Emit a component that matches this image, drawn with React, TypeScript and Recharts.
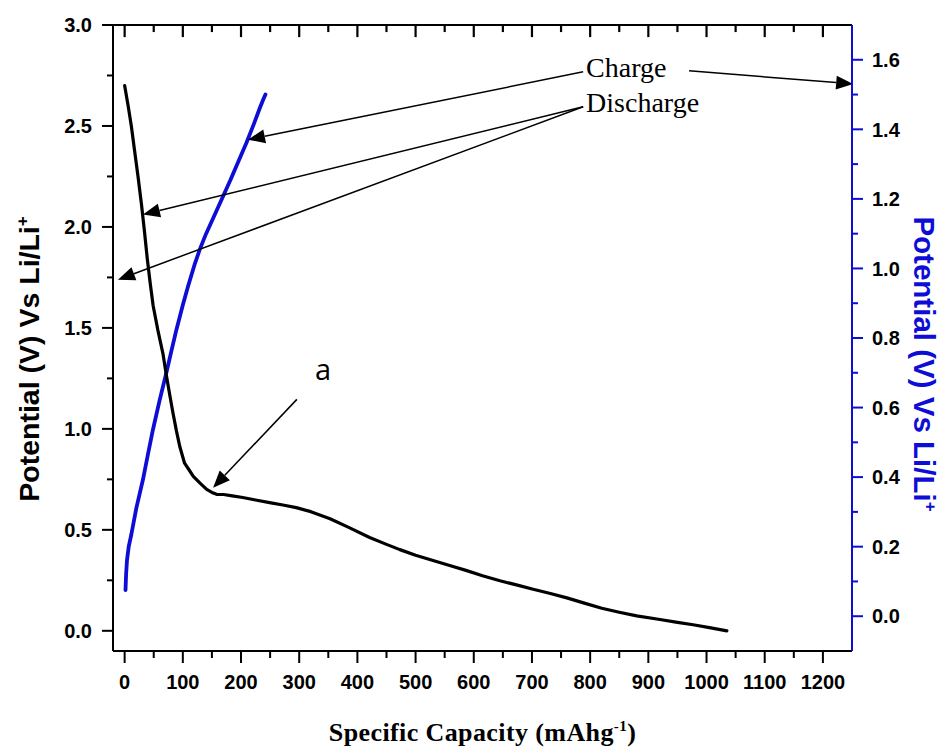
import { ComposedChart, Line, XAxis, YAxis, ReferenceLine, ReferenceDot } from 'recharts';

// tick values
const capacityTicks = [0, 50, 100, 150, 200, 250, 300, 350, 400, 450, 500, 550, 600, 650, 700, 750, 800, 850, 900, 950, 1000, 1050, 1100, 1150, 1200];
const leftTicks = [0, 0.25, 0.5, 0.75, 1, 1.25, 1.5, 1.75, 2, 2.25, 2.5, 2.75, 3];
const rightTicks = [0, 0.1, 0.2, 0.3, 0.4, 0.5, 0.6, 0.7, 0.8, 0.9, 1, 1.1, 1.2, 1.3, 1.4, 1.5, 1.6];
const LEFT_TOP = 3;

// discharge curve (left axis)
const dischargeCapacity = [0, 6, 11.5, 17, 23, 29, 34, 39, 44, 49, 57, 66, 72, 78, 83, 89, 95, 103, 110, 118, 130, 141, 150, 158, 170, 185, 203, 225, 249, 272, 295, 320, 353, 385, 421, 450, 473, 500, 530, 560, 588, 615, 645, 675, 702, 730, 760, 790, 820, 850, 880, 920, 950, 977, 1005, 1035];
const dischargePotential = [2.7, 2.6, 2.5, 2.38, 2.25, 2.11, 1.98, 1.84, 1.72, 1.61, 1.49, 1.37, 1.26, 1.16, 1.08, 0.99, 0.91, 0.83, 0.8, 0.765, 0.73, 0.7, 0.685, 0.676, 0.675, 0.668, 0.66, 0.648, 0.635, 0.623, 0.61, 0.59, 0.555, 0.512, 0.462, 0.428, 0.402, 0.374, 0.348, 0.322, 0.298, 0.273, 0.248, 0.226, 0.206, 0.186, 0.163, 0.137, 0.112, 0.092, 0.074, 0.056, 0.042, 0.03, 0.016, 0];

// charge curve (right axis)
const chargeCapacity = [1.5, 2.5, 4, 7, 11.5, 20, 31.5, 40, 48.7, 60, 71.7, 80, 89, 100, 109, 120, 129, 140, 155, 169, 182, 196, 209, 222, 232, 238, 242];
const chargePotential = [0.075, 0.12, 0.16, 0.2, 0.235, 0.31, 0.393, 0.465, 0.537, 0.62, 0.7, 0.76, 0.824, 0.895, 0.949, 1.01, 1.054, 1.1, 1.155, 1.207, 1.255, 1.31, 1.36, 1.415, 1.46, 1.485, 1.5];

const dischargeData = dischargeCapacity.map((c, i) => ({ capacity: c, potential: dischargePotential[i] }));
const chargeData = chargeCapacity.map((c, i) => ({ capacity: c, potential: chargePotential[i] }));

// annotation arrows, in left-axis data units
const arrows = [
  { from: [788, 2.768], to: [212, 2.432] },
  { from: [970, 2.773], to: [1252, 2.708] },
  { from: [788, 2.595], to: [31.5, 2.061] },
  { from: [788, 2.595], to: [-11.5, 1.739] },
  { from: [296, 1.146], to: [152, 0.709] },
];

const BLUE = '#0d0dd6';
const SANS = 'Arial, "Liberation Sans", sans-serif';
const SERIF = '"Times New Roman", "Liberation Serif", serif';

const isMajorCap = (v: number) => v % 100 === 0;

const TickLabel = ({ x, y, anchor, dy, children }: any) => (
  <text x={x} y={y} dy={dy} textAnchor={anchor} fontFamily={SANS} fontWeight="bold" fontSize={20} fill="#000">{children}</text>
);

const bottomTick = (p: any) => {
  const v = p.payload.value;
  const major = isMajorCap(v);
  return (
    <g key={`b${v}`}>
      <line x1={p.x} x2={p.x} y1={p.y} y2={p.y + (major ? 12 : 7)} stroke="#000" strokeWidth={2} />
      {major && <TickLabel x={p.x} y={p.y + 38} anchor="middle">{v}</TickLabel>}
    </g>
  );
};

const leftTick = (p: any) => {
  const v = p.payload.value;
  const major = Math.abs(v * 2 - Math.round(v * 2)) < 1e-6;
  return (
    <g key={`l${v}`}>
      <line x1={p.x - (major ? 11 : 6)} x2={p.x} y1={p.y} y2={p.y} stroke="#000" strokeWidth={2} />
      {major && <TickLabel x={p.x - 21} y={p.y} dy="0.36em" anchor="end">{v.toFixed(1)}</TickLabel>}
    </g>
  );
};

const rightTick = (p: any) => {
  const v = p.payload.value;
  const major = Math.round(v * 10) % 2 === 0;
  return (
    <g key={`r${v}`}>
      <line x1={p.x} x2={p.x + (major ? 11 : 6)} y1={p.y} y2={p.y} stroke={BLUE} strokeWidth={2} />
      {major && <TickLabel x={p.x + 20} y={p.y} dy="0.36em" anchor="start">{v.toFixed(1)}</TickLabel>}
    </g>
  );
};

const leftTitle = (p: any) => {
  const { x, y, height } = p.viewBox;
  const cx = x + 29;
  const cy = y + height / 2 + 21;
  return (
    <text x={cx} y={cy} dy="0.36em" textAnchor="middle" transform={`rotate(-90 ${cx} ${cy})`}
      fontFamily={SANS} fontWeight="bold" fontSize={28.5} fill="#000">
      Potential (V) Vs Li/Li<tspan dy={-11} fontSize={17}>+</tspan>
    </text>
  );
};

const rightTitle = (p: any) => {
  const { x, y, height } = p.viewBox;
  const cx = x + 73;
  const cy = y + height / 2 + 26;
  return (
    <text x={cx} y={cy} dy="0.36em" textAnchor="middle" transform={`rotate(90 ${cx} ${cy})`}
      fontFamily={SANS} fontWeight="bold" fontSize={29.5} fill={BLUE}>
      Potential (V) Vs Li/Li<tspan dy={-11} fontSize={17}>+</tspan>
    </text>
  );
};

const bottomTitle = (p: any) => {
  const { x, y, width } = p.viewBox;
  return (
    <text x={x + width / 2} y={y + 90} textAnchor="middle" fontFamily={SERIF} fontWeight="bold" fontSize={26}
      letterSpacing={0.4} fill="#000">
      Specific Capacity (mAhg<tspan dy={-10} fontSize={15}>-1</tspan><tspan dy={10}>)</tspan>
    </text>
  );
};

const arrowShape = (p: any) => {
  const { x1, y1, x2, y2 } = p;
  const a = Math.atan2(y2 - y1, x2 - x1);
  const len = 17;
  const hw = 7;
  const bx = x2 - len * Math.cos(a);
  const by = y2 - len * Math.sin(a);
  const nx = -Math.sin(a) * hw;
  const ny = Math.cos(a) * hw;
  return (
    <g>
      <line x1={x1} y1={y1} x2={bx} y2={by} stroke="#000" strokeWidth={1.5} />
      <polygon points={`${x2},${y2} ${bx + nx},${by + ny} ${bx - nx},${by - ny}`} fill="#000" />
    </g>
  );
};

// inward tick mark below the top frame line; drawn like the arrows, from the scaled points
const topTickShape = (p: any) => {
  const x = p.x1;
  const y = Math.min(p.y1, p.y2);
  const len = Math.abs(p.y2 - p.y1);
  return (
    <g>
      <line x1={x} y1={y} x2={x} y2={y + len} stroke="#000" strokeWidth={2.2} />
    </g>
  );
};

const noteText = (text: string, font: string, size: number) => (p: any) => (
  <text x={p.cx} y={p.cy} textAnchor="start" fontFamily={font} fontSize={size} fill="#000">{text}</text>
);

export default function App() {
  return (
    <div style={{ position: 'absolute', left: 0, top: 0, width: 944, height: 751, background: '#fff' }}>
      <ComposedChart width={944} height={751} margin={{ top: 0, right: 0, bottom: 0, left: 0 }}>
        <XAxis xAxisId="cap" dataKey="capacity" type="number" domain={[-20, 1250]} ticks={capacityTicks} interval={0}
          allowDataOverflow height={100} tickSize={0} tickMargin={0} tickLine={false} tick={bottomTick}
          axisLine={{ stroke: '#000', strokeWidth: 2 }} label={{ content: bottomTitle }} />
        <XAxis xAxisId="capTop" dataKey="capacity" orientation="top" type="number" domain={[-20, 1250]}
          allowDataOverflow height={25} tick={false} tickLine={false} axisLine={{ stroke: '#000', strokeWidth: 2 }} />
        <YAxis yAxisId="left" type="number" domain={[-0.1, LEFT_TOP]} ticks={leftTicks} interval={0} allowDataOverflow
          width={113} tickSize={0} tickMargin={0} tickLine={false} tick={leftTick}
          axisLine={{ stroke: '#000', strokeWidth: 2 }} label={{ content: leftTitle }} />
        <YAxis yAxisId="right" orientation="right" type="number" domain={[-0.1, 1.7]} ticks={rightTicks} interval={0} allowDataOverflow
          width={92} tickSize={0} tickMargin={0} tickLine={false} tick={rightTick}
          axisLine={{ stroke: BLUE, strokeWidth: 2 }} label={{ content: rightTitle }} />
        <Line data={chargeData} dataKey="potential" xAxisId="cap" yAxisId="right" type="linear" stroke={BLUE}
          strokeWidth={3.8} dot={false} activeDot={false} isAnimationActive={false} strokeLinecap="round" strokeLinejoin="round" />
        <Line data={dischargeData} dataKey="potential" xAxisId="cap" yAxisId="left" type="linear" stroke="#000"
          strokeWidth={3.2} dot={false} activeDot={false} isAnimationActive={false} strokeLinecap="round" strokeLinejoin="round" />
        {arrows.map((a, i) => (
          <ReferenceLine key={`arrow${i}`} xAxisId="cap" yAxisId="left" ifOverflow="visible"
            segment={[{ x: a.from[0], y: a.from[1] }, { x: a.to[0], y: a.to[1] }]} shape={arrowShape} />
        ))}
        {capacityTicks.map((v) => (
          <ReferenceLine key={`top${v}`} xAxisId="cap" yAxisId="left" ifOverflow="visible"
            segment={[{ x: v, y: LEFT_TOP }, { x: v, y: LEFT_TOP - (isMajorCap(v) ? 0.06 : 0.035) }]} shape={topTickShape} />
        ))}
        <ReferenceDot xAxisId="cap" yAxisId="left" x={793} y={2.743} r={0} ifOverflow="visible" shape={noteText('Charge', SERIF, 28)} />
        <ReferenceDot xAxisId="cap" yAxisId="left" x={793} y={2.57} r={0} ifOverflow="visible" shape={noteText('Discharge', SERIF, 28)} />
        <ReferenceDot xAxisId="cap" yAxisId="left" x={327} y={1.24} r={0} ifOverflow="visible" shape={noteText('a', '"Open Sans", sans-serif', 29)} />
      </ComposedChart>
    </div>
  );
}
